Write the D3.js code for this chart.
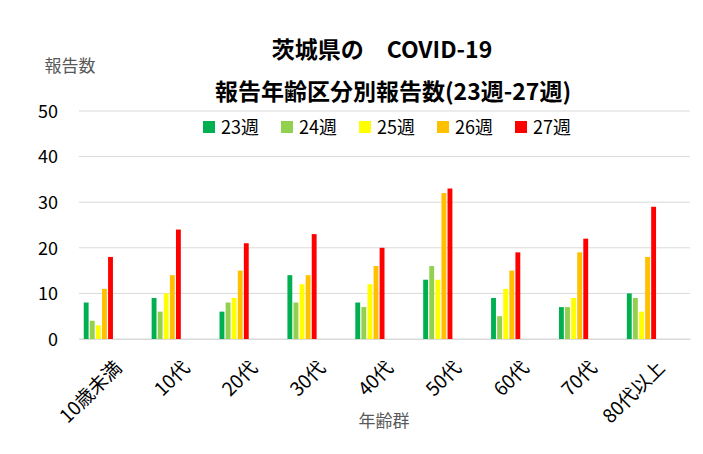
<!DOCTYPE html>
<html>
<head>
<meta charset="utf-8">
<script src="https://cdn.jsdelivr.net/npm/d3@7"></script>
<style>
  body { margin: 0; background: #fff; }
  text { font-family: "Noto Sans CJK JP", "Noto Sans", sans-serif; }
</style>
</head>
<body>
<div id="chart"></div>
<script>
// Data
const ageGroups = ["10歳未満", "10代", "20代", "30代", "40代", "50代", "60代", "70代", "80代以上"];
const weeks = ["23週", "24週", "25週", "26週", "27週"];
const week23 = [8, 9, 6, 14, 8, 13, 9, 7, 10];
const week24 = [4, 6, 8, 8, 7, 16, 5, 7, 9];
const week25 = [3, 10, 9, 12, 12, 13, 11, 9, 6];
const week26 = [11, 14, 15, 14, 16, 32, 15, 19, 18];
const week27 = [18, 24, 21, 23, 20, 33, 19, 22, 29];
const yTicks = [0, 10, 20, 30, 40, 50];
const colors = ["#00B050", "#92D050", "#FFFF00", "#FFC000", "#FF0000"];

const seriesValues = [week23, week24, week25, week26, week27];

// Dimensions
const width = 703;
const height = 454;
const margin = { top: 111, right: 13, bottom: 115, left: 79 };

const svg = d3.select("#chart")
    .append("svg")
    .attr("width", width)
    .attr("height", height);

// Scales
const x0 = d3.scaleBand()
    .domain(ageGroups)
    .range([margin.left, width - margin.right]);

const bw = x0.bandwidth();
const x1 = d3.scaleBand()
    .domain(weeks)
    .range([bw * 0.07, bw * 0.5])
    .paddingInner(0.2);

const y = d3.scaleLinear()
    .domain([0, 50])
    .range([height - margin.bottom, margin.top]);

const color = d3.scaleOrdinal().domain(weeks).range(colors);

// Gridlines
svg.append("g")
    .selectAll("line")
    .data(yTicks)
    .enter()
    .append("line")
    .attr("x1", margin.left)
    .attr("x2", width - margin.right)
    .attr("y1", d => y(d))
    .attr("y2", d => y(d))
    .attr("stroke", "#d9d9d9")
    .attr("stroke-width", 1);

// Y axis labels
const yAxis = svg.append("g")
    .attr("transform", `translate(${margin.left - 21},0)`)
    .call(d3.axisLeft(y).tickValues(yTicks).tickSize(0).tickPadding(0));
yAxis.select(".domain").remove();
yAxis.selectAll("text")
    .style("font-size", "18px")
    .attr("fill", "#000")
    .attr("dy", "0.35em");

// Bars
const groups = svg.append("g")
    .selectAll("g")
    .data(ageGroups)
    .enter()
    .append("g")
    .attr("transform", d => `translate(${x0(d)},0)`);

groups.selectAll("rect")
    .data((d, i) => weeks.map((w, j) => ({ week: w, value: seriesValues[j][i] })))
    .enter()
    .append("rect")
    .attr("x", d => x1(d.week))
    .attr("y", d => y(d.value))
    .attr("width", x1.bandwidth())
    .attr("height", d => y(0) - y(d.value))
    .attr("fill", d => color(d.week));

// X axis
const xAxis = svg.append("g")
    .attr("transform", `translate(0,${y(0)})`)
    .call(d3.axisBottom(x0).tickSize(0).tickPadding(0));
xAxis.select(".domain")
    .attr("stroke", "#d9d9d9");
xAxis.selectAll("text")
    .style("font-size", "19px")
    .attr("fill", "#000")
    .attr("text-anchor", "end")
    .attr("dy", null)
    .attr("transform", "translate(10,30) rotate(-45)");

// Titles
svg.append("text")
    .attr("x", 382)
    .attr("y", 58)
    .attr("text-anchor", "middle")
    .style("font-size", "23px")
    .style("font-weight", "bold")
    .text("茨城県の　COVID-19");

svg.append("text")
    .attr("x", 393)
    .attr("y", 100)
    .attr("text-anchor", "middle")
    .style("font-size", "23px")
    .style("font-weight", "bold")
    .text("報告年齢区分別報告数(23週-27週)");

svg.append("text")
    .attr("x", 70)
    .attr("y", 72)
    .attr("text-anchor", "middle")
    .style("font-size", "17px")
    .attr("fill", "#595959")
    .text("報告数");

svg.append("text")
    .attr("x", 384)
    .attr("y", 427)
    .attr("text-anchor", "middle")
    .style("font-size", "17px")
    .attr("fill", "#595959")
    .text("年齢群");

// Legend
const legend = svg.append("g")
    .selectAll("g")
    .data(weeks)
    .enter()
    .append("g")
    .attr("transform", (d, i) => `translate(${203 + i * 78},121)`);

legend.append("rect")
    .attr("width", 12)
    .attr("height", 12)
    .attr("fill", d => color(d));

legend.append("text")
    .attr("x", 18)
    .attr("y", 13)
    .style("font-size", "18px")
    .attr("fill", "#000")
    .text(d => d);
</script>
</body>
</html>
